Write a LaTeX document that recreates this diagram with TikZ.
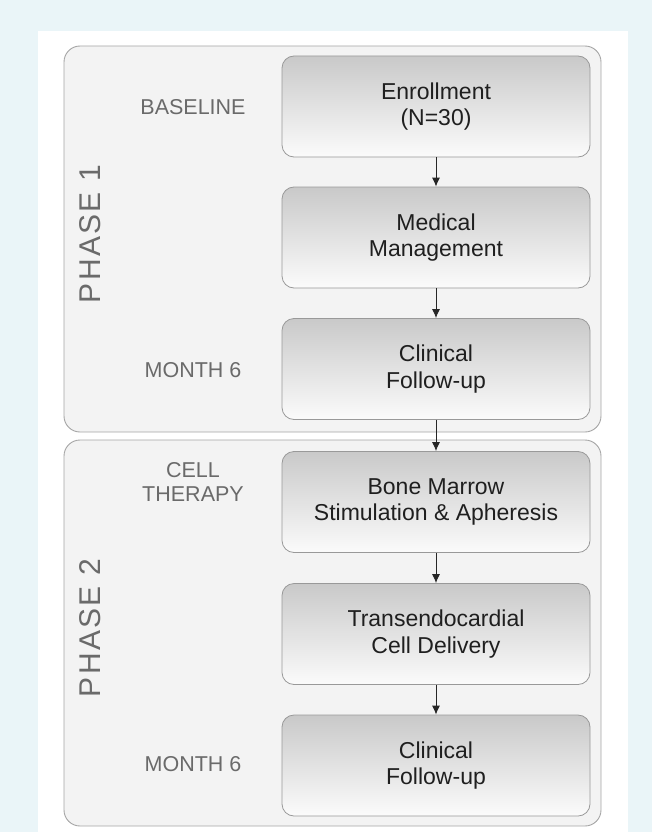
\documentclass[tikz,border=0pt]{standalone}
\usepackage{fontspec}
\setmainfont{Liberation Sans}
\newfontfamily\phasefont[LetterSpace=8]{Liberation Sans}
\usetikzlibrary{arrows.meta}

\definecolor{bgblue}{HTML}{EAF5F8}
\definecolor{panelgray}{HTML}{F3F3F3}
\definecolor{labelgray}{HTML}{6A6A6A}
\definecolor{boxtop}{HTML}{C9C9C9}
\definecolor{boxbottom}{HTML}{FBFBFB}

\begin{document}
\begin{tikzpicture}[x=1pt,y=-1pt,
	phase/.style={draw=black!35,fill=panelgray,rounded corners=16pt,minimum width=537pt,minimum height=386pt,line width=0.9pt},
	stepbox/.style={draw=black!40,top color=boxtop,bottom color=boxbottom,rounded corners=12pt,minimum width=308pt,minimum height=101pt,align=center,text=black!88,font=\fontsize{23}{26.5}\selectfont,line width=0.8pt},
	tag/.style={text=labelgray,align=center,font=\fontsize{21.5}{24}\selectfont},
	phasetag/.style={text=labelgray,rotate=90,font=\phasefont\fontsize{30}{30}\selectfont},
	arr/.style={-{Latex[length=9pt,width=8pt]},line width=0.9pt,black!85}]

	\useasboundingbox[fill=bgblue] (0,0) rectangle (652,832);
	\fill[white] (38,31) rectangle (628,832);

	% phases
	\node[phase] (p1) at (332.5,239) {};
	\node[phase] (p2) at (332.5,633) {};
	\node[phasetag] (p1tag) at (90,234) {PHASE 1};
	\node[phasetag] (p2tag) at (90,628) {PHASE 2};

	% time points
	\node[tag] (base) at (193,107) {BASELINE};
	\node[tag] (m6a) at (193,370) {MONTH 6};
	\node[tag] (cell) at (193,482) {CELL\\THERAPY};
	\node[tag] (m6b) at (193,764) {MONTH 6};

	% steps
	\node[stepbox] (enr) at (436,106.5) {Enrollment\\(N=30)};
	\node[stepbox] (med) at (436,237.5) {Medical\\Management};
	\node[stepbox] (fu1) at (436,369) {Clinical\\Follow-up};
	\node[stepbox] (bm) at (436,502) {Bone Marrow\\Stimulation \& Apheresis};
	\node[stepbox] (tc) at (436,634) {Transendocardial\\Cell Delivery};
	\node[stepbox] (fu2) at (436,765.5) {Clinical\\Follow-up};

	\draw[arr] (enr) -- (med);
	\draw[arr] (med) -- (fu1);
	\draw[arr] (fu1) -- (bm);
	\draw[arr] (bm) -- (tc);
	\draw[arr] (tc) -- (fu2);

\end{tikzpicture}
\end{document}
